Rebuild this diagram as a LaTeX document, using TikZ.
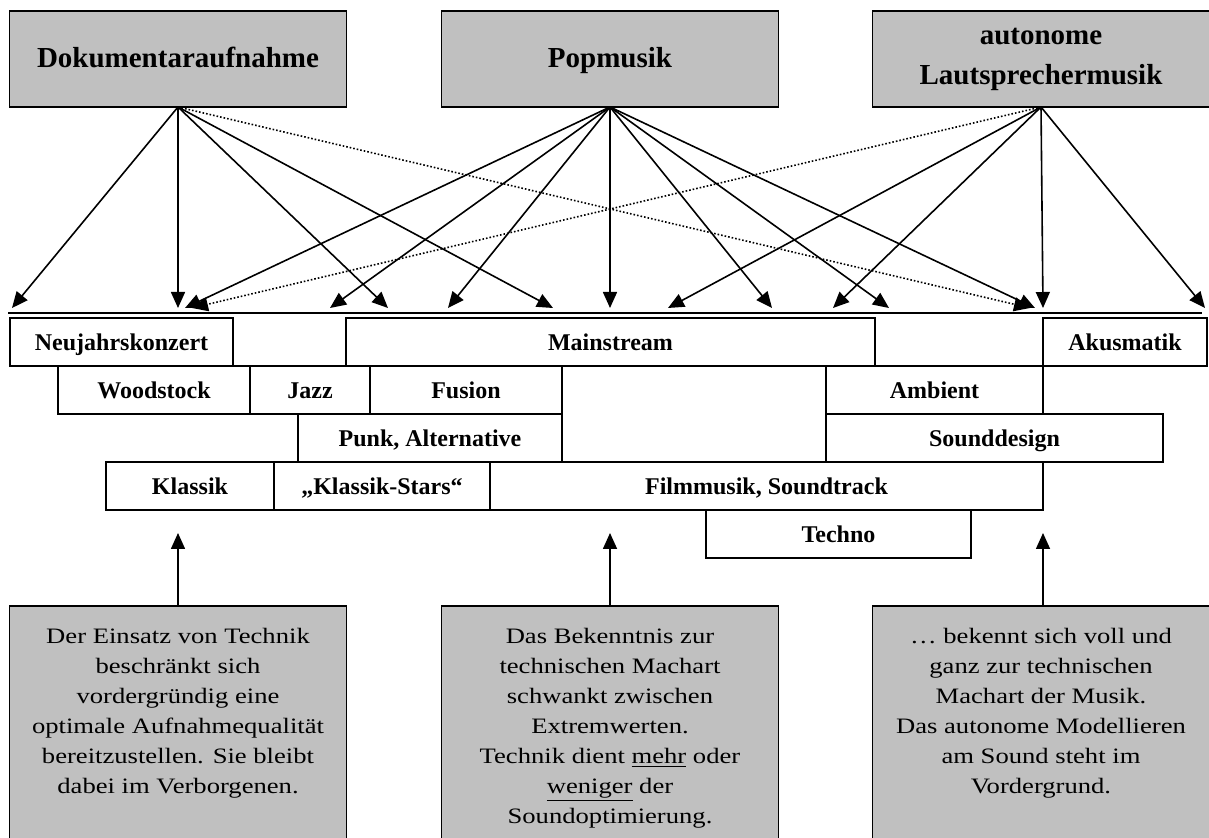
\documentclass[tikz,border=0pt]{standalone}
\usepackage{fontspec}
\setmainfont{Liberation Serif}
\newfontfamily\notefont[FakeStretch=1.21]{Liberation Serif}
\usetikzlibrary{positioning,arrows.meta}
\definecolor{BoxGray}{HTML}{C0C0C0}

\begin{document}
\begin{tikzpicture}[
  x=0.5pt, y=-0.5pt,
  every node/.style={inner sep=0pt, outer sep=0pt},
  head/.style={rectangle, draw=black, fill=BoxGray, line width=0.8pt, minimum width=168.5pt, minimum height=48pt, align=center, font=\fontsize{14.5}{20}\selectfont\bfseries},
  onehead/.style={head, text height=11pt, text depth=2pt},
  genre/.style={rectangle, draw=black, line width=0.8pt, minimum height=24pt, text height=10pt, text depth=1pt, font=\fontsize{12}{14}\selectfont\bfseries},
  note/.style={rectangle, draw=black, fill=BoxGray, line width=0.8pt, minimum width=168.5pt, minimum height=120pt, anchor=north},
  notetext/.style={anchor=north, align=center, font=\notefont\fontsize{11}{15}\selectfont},
  arr/.style={-{Triangle[length=8pt,width=7pt]}, line width=0.8pt},
  darr/.style={arr, densely dotted}
]
\useasboundingbox (0,0) rectangle (1209,838);

%% the three kinds of recorded music
\node[onehead] (dok) at (178,59) {Dokumentaraufnahme};
\node[onehead] (pop) at (610,59) {Popmusik};
\node[head] (auto) at (1041,59) {autonome\\Lautsprechermusik};

%% arrow tips above the bar
\foreach \n/\x in {dk1/12, dk2/178, dk3/388, dk4/553, dkx/1030,
                   pp1/185, pp2/330, pp3/448, pp4/610, pp5/772, pp6/889, pp7/1035,
                   au1/668, au2/833, au3/1043, au4/1205, aux/192} {
  \coordinate (\n) at (\x,308);
}
\foreach \t in {dk1,dk2,dk3,dk4} \draw[arr] (dok.south) -- (\t);
\foreach \t in {pp1,pp2,pp3,pp4,pp5,pp6,pp7} \draw[arr] (pop.south) -- (\t);
\foreach \t in {au1,au2,au3,au4} \draw[arr] (auto.south) -- (\t);
\draw[darr] (dok.south) -- (dkx);
\draw[darr] (auto.south) -- (aux);

\coordinate (barL) at (8,313);
\coordinate (barR) at (1202,313);
\draw[line width=0.8pt] (barL) -- (barR);

%% genre boxes: name/left/right/centre y/text
\foreach \n/\l/\r/\y/\t in {
  neu/10/233/342/Neujahrskonzert, main/346/875/342/Mainstream, akus/1043/1207/342/Akusmatik,
  wood/58/250/390/Woodstock, jazz/250/370/390/Jazz, fus/370/562/390/Fusion, amb/826/1043/390/Ambient,
  punk/298/562/438/{Punk, Alternative}, sdes/826/1163/438/Sounddesign,
  klas/106/274/486/Klassik, kstar/274/490/486/{„Klassik-Stars“}, film/490/1043/486/{Filmmusik, Soundtrack},
  techno/706/971/534/Techno} {
  \node[genre, minimum width={(\r-\l)*0.5pt}] (\n) at ({(\l+\r)/2},\y) {\t};
}

%% explanations below
\node[note] (n1) at (178,606) {};
\node[note] (n2) at (610,606) {};
\node[note] (n3) at (1041,606) {};
\node[notetext] (t1) at (178,628) {Der Einsatz von Technik\\beschränkt sich\\vordergründig eine\\optimale Aufnahmequalität\\bereitzustellen. Sie bleibt\\dabei im Verborgenen.};
\node[notetext] (t2) at (610,628) {Das Bekenntnis zur\\technischen Machart\\schwankt zwischen\\Extremwerten.\\Technik dient \underline{mehr} oder\\\underline{weniger} der\\Soundoptimierung.};
\node[notetext] (t3) at (1041,628) {… bekennt sich voll und\\ganz zur technischen\\Machart der Musik.\\Das autonome Modellieren\\am Sound steht im\\Vordergrund.};

\foreach \i/\x in {1/178, 2/610, 3/1043} {
  \coordinate (up\i) at (\x,533);
}
\draw[arr] (n1.north) -- (up1);
\draw[arr] (n2.north) -- (up2);
\draw[arr] (n3.north -| up3) -- (up3);
\end{tikzpicture}
\end{document}
